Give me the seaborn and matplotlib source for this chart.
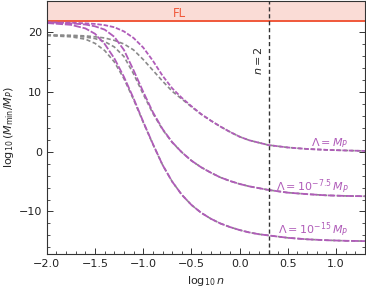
import numpy as np
import pandas as pd
import seaborn as sns
import matplotlib.pyplot as plt

sns.set_style("ticks")
plt.rcParams['font.family'] = ['DejaVu Sans']
plt.rcParams['mathtext.fontset'] = 'dejavusans'

# log10 n grid
log_n = [-2.0, -1.75, -1.6, -1.5, -1.4, -1.3, -1.2, -1.1, -1.0, -0.9, -0.8, -0.7,
         -0.6, -0.5, -0.4, -0.3, -0.2, -0.1, 0.0, 0.1, 0.2, 0.3, 0.5, 0.7, 0.9, 1.1, 1.3]

# purple curves
lam_planck = [21.6, 21.55, 21.45, 21.35, 21.15, 20.8, 20.1, 19.0, 17.4, 15.2, 12.7, 10.6,
              9.0, 7.6, 6.3, 5.2, 4.2, 3.3, 2.5, 1.9, 1.5, 1.1, 0.7, 0.45, 0.3, 0.2, 0.12]
lam_75 = [21.6, 21.45, 21.25, 20.95, 20.4, 19.2, 17.0, 13.6, 10.0, 6.6, 3.8, 1.6,
          -0.1, -1.5, -2.6, -3.5, -4.3, -4.9, -5.4, -5.8, -6.1, -6.4, -6.85, -7.1, -7.3, -7.4, -7.45]
lam_15 = [21.5, 21.2, 20.6, 19.7, 18.0, 15.6, 12.5, 8.9, 5.0, 1.3, -2.2, -5.0,
          -7.2, -8.9, -10.2, -11.2, -12.0, -12.6, -13.1, -13.5, -13.8, -14.0, -14.4, -14.65, -14.8, -14.9, -14.95]

# grey companions
grey_planck = [19.5, 19.45, 19.35, 19.2, 19.0, 18.6, 18.0, 17.0, 15.4, 13.6, 11.8, 10.1,
               8.8, 7.5, 6.25, 5.2, 4.2, 3.3, 2.5, 1.9, 1.5, 1.1, 0.7, 0.45, 0.3, 0.2, 0.12]
grey_75 = [19.5, 19.35, 19.15, 18.9, 18.4, 17.5, 15.9, 13.0, 9.6, 6.4, 3.7, 1.55,
           -0.1, -1.5, -2.6, -3.5, -4.3, -4.9, -5.4, -5.8, -6.1, -6.4, -6.85, -7.1, -7.3, -7.4, -7.45]
grey_15 = [19.4, 19.2, 18.8, 18.1, 16.9, 15.0, 12.2, 8.7, 4.9, 1.25, -2.2, -5.0,
           -7.2, -8.9, -10.2, -11.2, -12.0, -12.6, -13.1, -13.5, -13.8, -14.0, -14.4, -14.65, -14.8, -14.9, -14.95]

fl_bound = 21.85
n_line = np.log10(2)

purple = "#b05cb9"
grey = "#8a8a8a"

fig, ax = plt.subplots(figsize=(3.66, 2.96), dpi=100)
fig.subplots_adjust(left=0.128, right=0.997, bottom=0.142, top=0.998)

ax.axhspan(fl_bound, 30, color="#fadcd6", lw=0)
ax.axhline(fl_bound, color="#f0583a", lw=1.4)

for ys in [grey_planck, grey_75, grey_15]:
    sns.lineplot(x=log_n, y=ys, ax=ax, color=grey, lw=1.2, estimator=None,
                 linestyle=(0, (2.5, 1.5)))
sns.lineplot(x=log_n, y=lam_planck, ax=ax, color=purple, lw=1.3, estimator=None,
             linestyle=(0, (2.5, 1.0)))
for ys in [lam_75, lam_15]:
    sns.lineplot(x=log_n, y=ys, ax=ax, color=purple, lw=1.3, estimator=None,
                 linestyle=(0, (4, 1.0)))

ax.axvline(n_line, color="#333333", lw=1.0, linestyle=(0, (3, 2)))

ax.text(-0.62, 23.1, "FL", color="#f0583a", fontsize=8.5, ha="center", va="center")
ax.text(0.19, 15.2, "$n=2$", rotation=90, fontsize=8, ha="center", va="center")
ax.text(1.13, 1.5, r"$\Lambda = M_P$", color=purple, fontsize=8, ha="right", va="center")
ax.text(1.13, -5.8, r"$\Lambda = 10^{-7.5}\,M_P$", color=purple, fontsize=8, ha="right", va="center")
ax.text(1.13, -13.0, r"$\Lambda = 10^{-15}\,M_P$", color=purple, fontsize=8, ha="right", va="center")

ax.set_xlim(-2.0, 1.3)
ax.set_ylim(-17.1, 25.25)
ax.set_xticks([-2.0, -1.5, -1.0, -0.5, 0.0, 0.5, 1.0])
ax.set_xticklabels(["\u22122.0", "\u22121.5", "\u22121.0", "\u22120.5", "0.0", "0.5", "1.0"])
ax.set_yticks([-10, 0, 10, 20])
ax.set_yticklabels(["\u221210", "0", "10", "20"])
ax.set_xticks(np.arange(-2.0, 1.31, 0.1), minor=True)
ax.set_yticks(np.arange(-16, 25, 2), minor=True)
ax.tick_params(which="both", direction="in", top=True, right=True, labelsize=8,
               colors="#333333", labelcolor="#222222")
ax.tick_params(which="major", length=4, width=0.7)
ax.tick_params(which="minor", length=2, width=0.6)
for s in ax.spines.values():
    s.set_linewidth(0.8)
    s.set_color("#333333")

ax.set_xlabel(r"$\log_{10}n$", fontsize=8, labelpad=4)
ax.set_ylabel(r"$\log_{10}(M_{\rm min}/M_P)$", fontsize=8, labelpad=2)

fig.savefig("out.png", dpi=100)
